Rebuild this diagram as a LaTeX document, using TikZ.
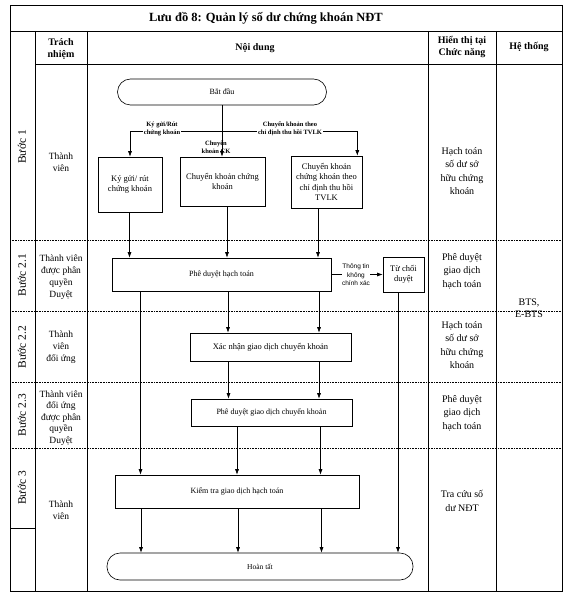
\documentclass[tikz,border=0pt]{standalone}
\usepackage{fontspec}
\setmainfont{Liberation Serif}
\newfontfamily\sansf{Liberation Sans}
\usetikzlibrary{arrows.meta,positioning}

\begin{document}
\begin{tikzpicture}[x=1pt,y=-1pt,
  box/.style={draw,semithick,align=center,inner sep=1pt,font=\fontsize{8}{10}\selectfont},
  bigbox/.style={box,font=\fontsize{8.5}{10.5}\selectfont},
  term/.style={box,rounded corners=13pt},
  lbl/.style={align=center,inner sep=1pt,font=\bfseries\fontsize{6.5}{7.5}\selectfont},
  cell/.style={align=center,font=\fontsize{10}{13.5}\selectfont},
  who/.style={align=center,font=\fontsize{9.5}{12}\selectfont},
  head/.style={align=center,font=\bfseries\fontsize{10}{12.5}\selectfont},
  stage/.style={rotate=90,font=\fontsize{11.5}{13}\selectfont},
  row/.style={densely dotted,semithick},
  arr/.style={-{Latex[length=5.5pt,width=4pt]},semithick}]
\fill[white] (0,0) rectangle (576,596);
\useasboundingbox (0,0) rectangle (576,596);

% frame
\draw[thick] (10,5) rectangle (562,591);
\draw[semithick] (10,31) -- (562,31);
\draw[semithick] (35,64) -- (562,64);
\foreach \xx in {35,87,428,496} \draw[semithick] (\xx,31) -- (\xx,591);
\foreach \yy in {240,311,382,448} \draw[row] (10,\yy) -- (562,\yy);
\draw[semithick] (10,528) -- (35,528);

\node[font=\bfseries\fontsize{12.5}{14}\selectfont] (ttl) at (266,18) {Lưu đồ 8: Quản lý số dư chứng khoán NĐT};
\node[head] (h1) at (61,49) {Trách\\nhiệm};
\node[head] (h2) at (255,48) {Nội dung};
\node[head] (h3) at (462,47) {Hiển thị tại\\Chức năng};
\node[head] (h4) at (529,47) {Hệ thống};

\node[stage] (st1) at (22,147) {Bước 1};
\node[stage] (st2) at (22,275) {Bước 2.1};
\node[stage] (st3) at (22,347) {Bước 2.2};
\node[stage] (st4) at (22,415) {Bước 2.3};
\node[stage] (st5) at (22,488) {Bước 3};

\node[who] (w1) at (61,162) {Thành\\viên};
\node[who] (w2) at (61,277) {Thành viên\\được phân\\quyền\\Duyệt};
\node[who] (w3) at (61,347) {Thành\\viên\\đối ứng};
\node[who,font=\fontsize{9.5}{11.5}\selectfont] (w4) at (61,418) {Thành viên\\đối ứng\\được phân\\quyền\\Duyệt};
\node[who] (w5) at (61,510) {Thành\\viên};

\node[cell] (f1) at (462,171) {Hạch toán\\số dư sở\\hữu chứng\\khoán};
\node[cell] (f2) at (462,271) {Phê duyệt\\giao dịch\\hạch toán};
\node[cell] (f3) at (462,345) {Hạch toán\\số dư sở\\hữu chứng\\khoán};
\node[cell] (f4) at (462,413) {Phê duyệt\\giao dịch\\hạch toán};
\node[cell] (f5) at (462,501) {Tra cứu số\\dư NĐT};
\node[cell,font=\fontsize{10}{12}\selectfont] (sys) at (529,308) {BTS,\\E-BTS};

% flow
\node[term,minimum width=209pt,minimum height=26pt] (s) at (222,92) {Bắt đầu};
\node[bigbox,minimum width=64pt,minimum height=55pt] (k) at (130,184.5) {Ký gửi/ rút\\chứng khoán};
\node[bigbox,minimum width=85pt,minimum height=49pt] (c) at (222.5,181.5) {Chuyển khoản chứng\\khoán};
\node[bigbox,minimum width=71pt,minimum height=52pt] (t) at (326.5,182) {Chuyển khoản\\chứng khoán theo\\chỉ định thu hồi\\TVLK};
\node[box,minimum width=219pt,minimum height=33pt] (p) at (221.5,274.5) {Phê duyệt hạch toán};
\node[bigbox,minimum width=41pt,minimum height=35pt] (r) at (403.5,274.5) {Từ chối\\duyệt};
\node[bigbox,minimum width=161pt,minimum height=28pt] (x) at (270.5,347) {Xác nhận giao dịch chuyển khoản};
\node[box,minimum width=161pt,minimum height=27pt] (g) at (271.5,412.5) {Phê duyệt giao dịch chuyển khoản};
\node[box,minimum width=244pt,minimum height=33pt] (kt) at (237,491.5) {Kiểm tra giao dịch hạch toán};
\node[term,font=\fontsize{7.5}{9}\selectfont,minimum width=306pt,minimum height=27pt] (e) at (260,566.5) {Hoàn tất};

\coordinate (fk) at (223,131);
\draw[arr] (s.south) -- (s.south |- c.north);
\draw[arr] (fk) -| (k.north);
\draw[arr] (fk) -| ([xshift=-5pt]t.north east);
\node[lbl,fill=white] (kl) at (162,129) {Ký gửi/Rút\\chứng khoán};
\node[lbl,fill=white] (tl) at (290,129) {Chuyển khoản theo\\chỉ định thu hồi TVLK};
\node[lbl] (cl) at (216,147) {Chuyển\\khoản CK};

\foreach \u/\v/\xx in {k/p/129.5,c/p/227,t/p/318,p/kt/140.5,p/x/228,x/g/228.5,g/kt/237,kt/e/238,
  p/x/319,x/g/319,g/kt/320.5,kt/e/321.5,kt/e/141,r/e/398}{
  \coordinate (ln) at (\xx,0);
  \draw[arr] (\u.south -| ln) -- (\v.north -| ln);
}

\draw[arr] (p.east) -- (r.west);
\node[fill=white,align=center,inner sep=0.5pt,font=\sansf\fontsize{6.5}{8.5}\selectfont] (ti) at (356,275) {Thông tin\\không\\chính xác};
\end{tikzpicture}
\end{document}
